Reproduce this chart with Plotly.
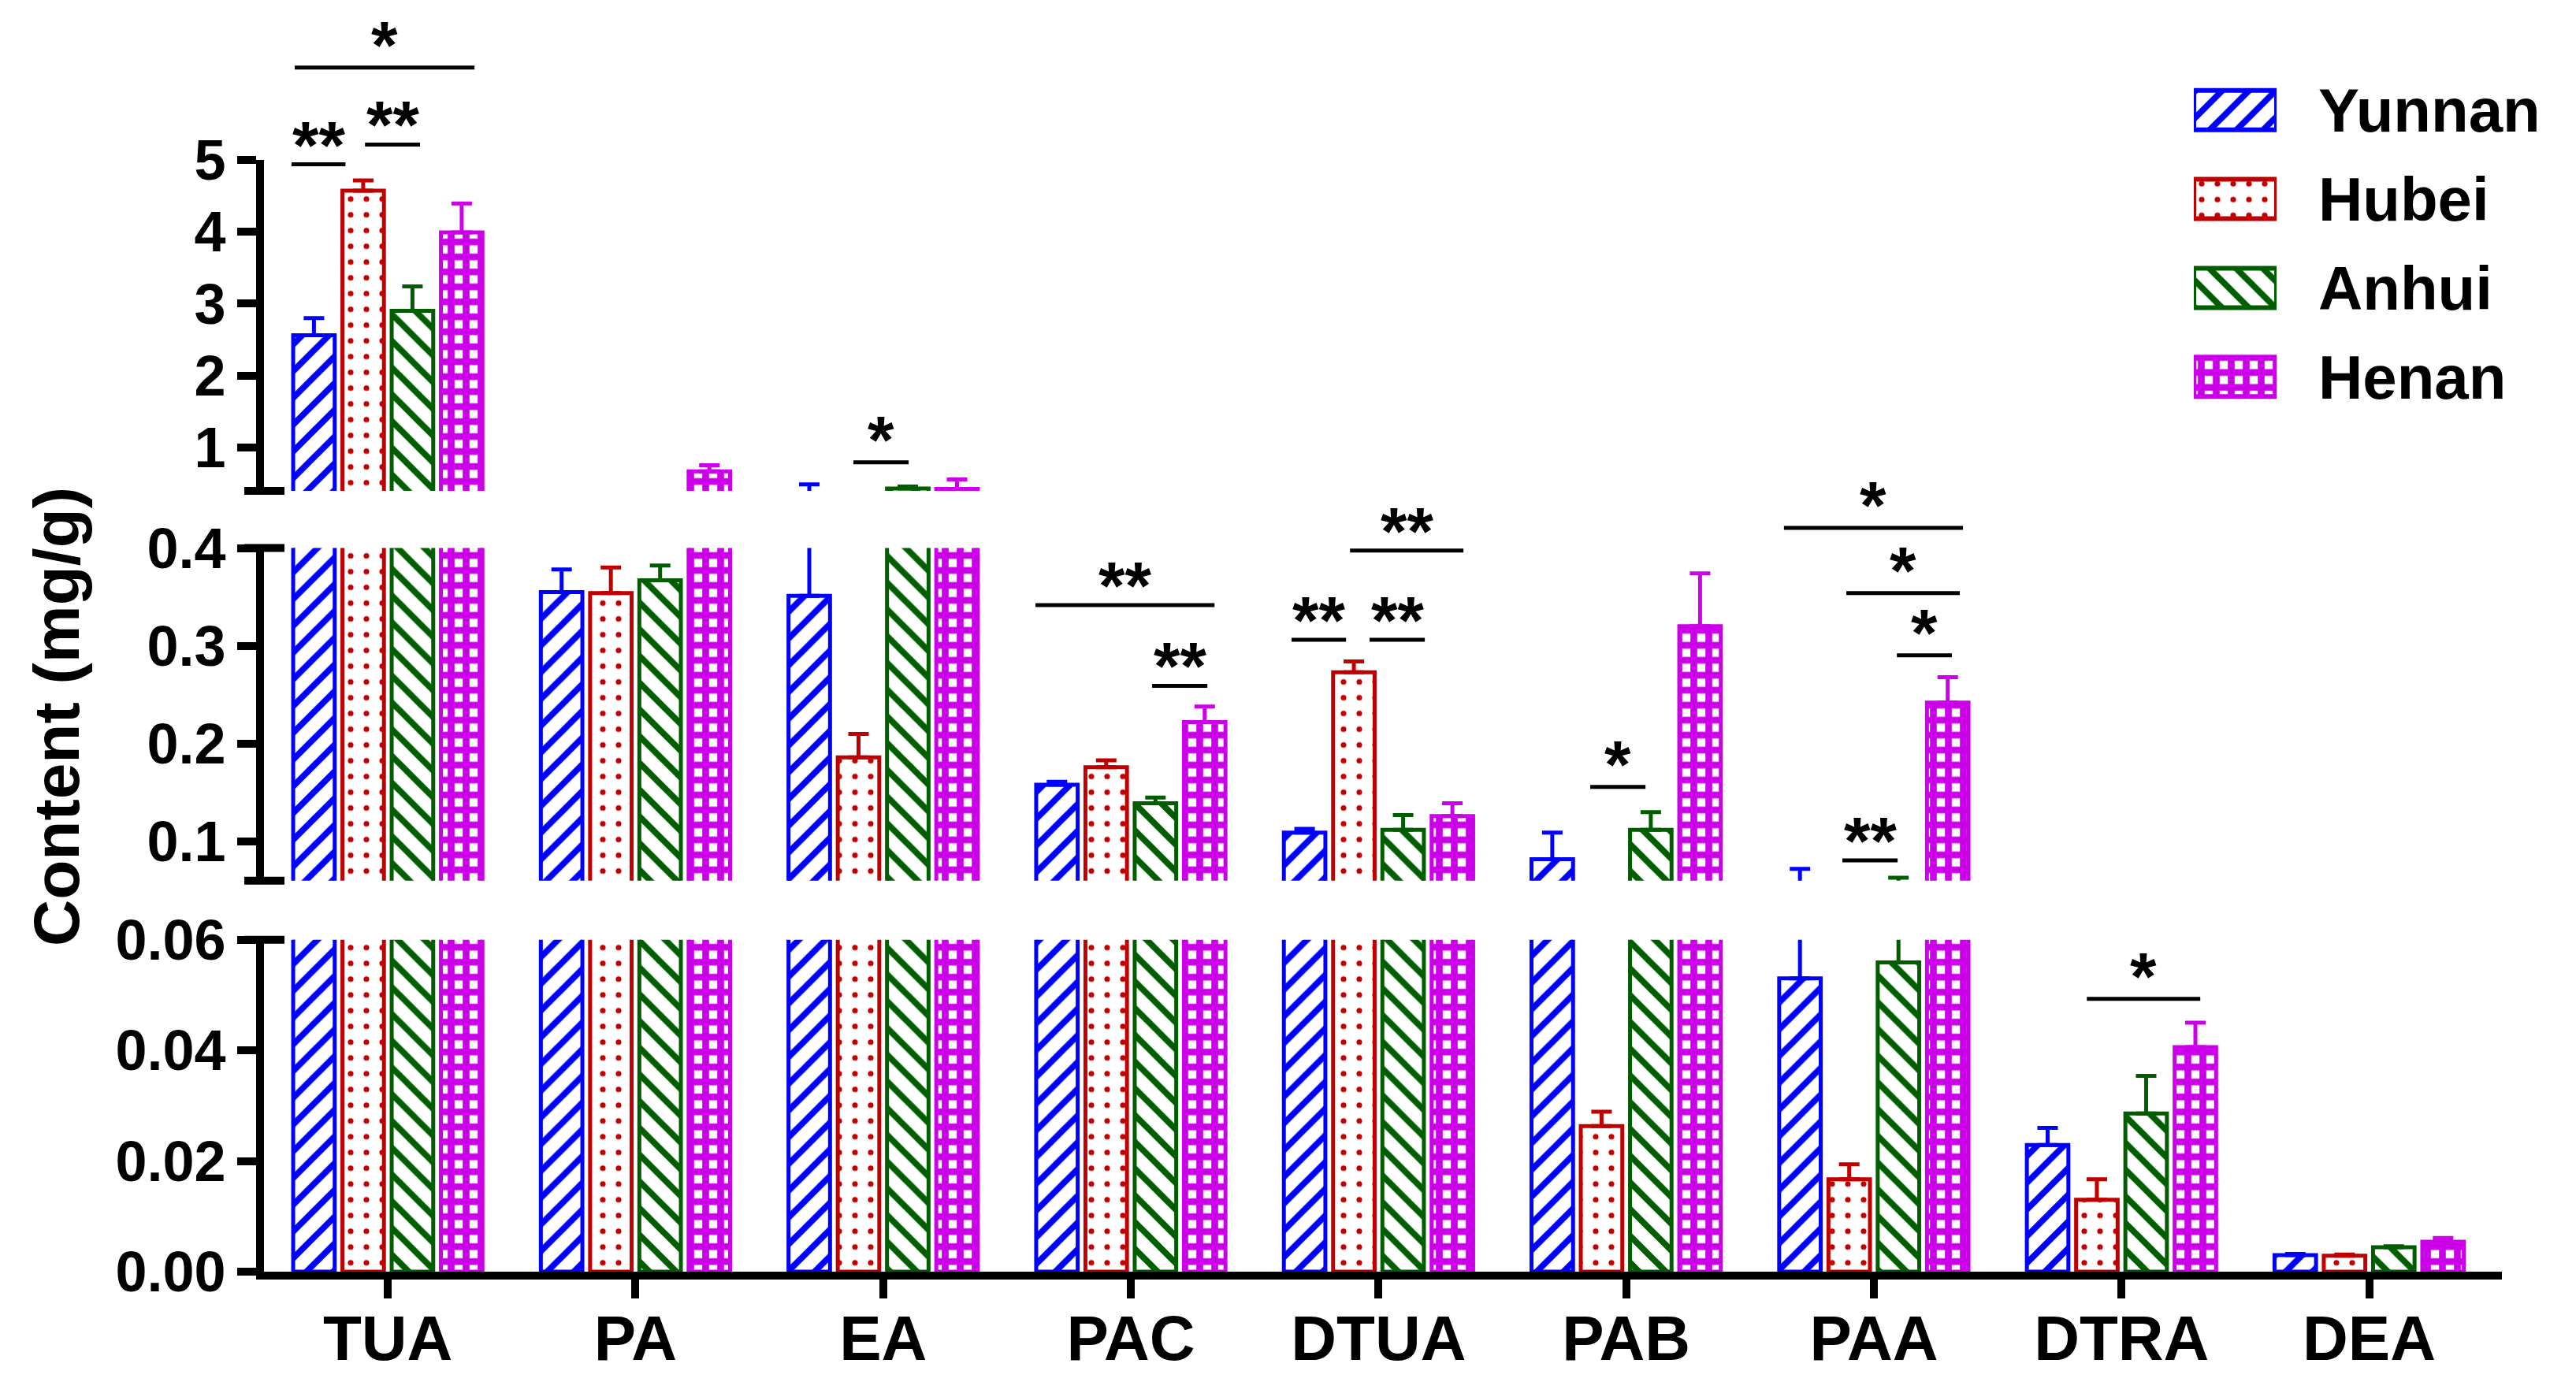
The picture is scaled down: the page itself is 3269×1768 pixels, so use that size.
import plotly.graph_objects as go

# ---------------- data ----------------
categories = ["TUA", "PA", "EA", "PAC", "DTUA", "PAB", "PAA", "DTRA", "DEA"]
series = ["Yunnan", "Hubei", "Anhui", "Henan"]

yunnan = [2.56, 0.355, 0.351, 0.158, 0.109, 0.082, 0.053, 0.0229, 0.0030]
yunnan_err = [0.24, 0.023, 0.140, 0.003, 0.004, 0.027, 0.019, 0.0031, 0.0002]
hubei = [4.57, 0.354, 0.186, 0.176, 0.273, 0.0263, 0.0167, 0.0130, 0.0029]
hubei_err = [0.14, 0.026, 0.024, 0.007, 0.011, 0.0026, 0.0027, 0.0037, 0.0002]
anhui = [2.90, 0.367, 0.432, 0.139, 0.112, 0.112, 0.0559, 0.0286, 0.0044]
anhui_err = [0.34, 0.015, 0.028, 0.006, 0.015, 0.018, 0.0071, 0.0068, 0.0002]
henan = [3.99, 0.67, 0.428, 0.222, 0.126, 0.320, 0.242, 0.0406, 0.0054]
henan_err = [0.40, 0.085, 0.13, 0.016, 0.013, 0.054, 0.026, 0.0044, 0.0007]

values = [yunnan, hubei, anhui, henan]
errors = [yunnan_err, hubei_err, anhui_err, henan_err]

# broken y axis: bottom, middle, top segments
seg_ranges = [[0, 0.06], [0.06, 0.4], [0.4, 5]]
seg_tickvals = [[0, 0.02, 0.04, 0.06], [0.1, 0.2, 0.3, 0.4], [1, 2, 3, 4, 5]]
seg_ticktext = [["0.00", "0.02", "0.04", "0.06"], ["0.1", "0.2", "0.3", "0.4"],
                ["1", "2", "3", "4", "5"]]

# significance marks: category, line start / end (offset from category centre),
# segment, level, label
significance = [
    ("TUA", -0.376, 0.350, 2, 6.279, "*"),
    ("TUA", -0.389, -0.171, 2, 4.935, "**"),
    ("TUA", -0.092, 0.130, 2, 5.209, "**"),
    ("EA", -0.120, 0.103, 2, 0.798, "*"),
    ("PAC", -0.385, 0.338, 1, 0.3416, "**"),
    ("PAC", 0.086, 0.309, 1, 0.2591, "**"),
    ("DTUA", -0.351, -0.131, 1, 0.3062, "**"),
    ("DTUA", -0.036, 0.187, 1, 0.3062, "**"),
    ("DTUA", -0.115, 0.343, 1, 0.3974, "**"),
    ("PAB", -0.145, 0.078, 1, 0.1558, "*"),
    ("PAA", -0.363, 0.360, 1, 0.4205, "*"),
    ("PAA", -0.111, 0.347, 1, 0.3539, "*"),
    ("PAA", 0.093, 0.315, 1, 0.2903, "*"),
    ("PAA", -0.127, 0.096, 1, 0.0807, "**"),
    ("DTRA", -0.140, 0.318, 0, 0.0493, "*"),
]

# ---------------- style ----------------
FONT = "Liberation Sans, Arial, sans-serif"
colors = ["#0000FF", "#C00000", "#005E00", "#CC00E8"]
pat_shapes = ["/", ".", "\\", "+"]
pat_sizes = [24, 20, 24, 19]
pat_solid = [0.33, 0.1, 0.33, 0.7]

seg_axes = ["y", "y2", "y3"]
seg_domains = [[0.0, 0.2643], [0.31136, 0.57622], [0.6217, 0.88545]]
XR = [-0.5, 8.536]


def xp(v):
    return (v - XR[0]) / (XR[1] - XR[0])


def yp(seg, v):
    r, d = seg_ranges[seg], seg_domains[seg]
    return d[0] + (v - r[0]) / (r[1] - r[0]) * (d[1] - d[0])


fig = go.Figure()

for si, ax in enumerate(seg_axes):
    lo = seg_ranges[si][0]
    for k, name in enumerate(series):
        # a bar (with its error bar) that never reaches this segment is left out of it
        yv = [v if v + e >= lo else None for v, e in zip(values[k], errors[k])]
        fig.add_trace(go.Bar(
            x=categories, y=yv, name=name, xaxis="x", yaxis=ax,
            showlegend=False,
            marker=dict(color="white",
                        line=dict(color=colors[k], width=5),
                        pattern=dict(shape=pat_shapes[k], fgcolor=colors[k],
                                     bgcolor="white", size=pat_sizes[k],
                                     solidity=pat_solid[k], fillmode="replace")),
            error_y=dict(type="data", symmetric=False, array=errors[k],
                         arrayminus=[0] * len(categories), color=colors[k],
                         thickness=5, width=13),
        ))

# legend drawn as a small bar panel
fig.add_trace(go.Bar(
    x=[1] * len(series), y=series, orientation="h", base=0, width=0.443,
    xaxis="x4", yaxis="y4", showlegend=False, cliponaxis=False,
    marker=dict(color="white", line=dict(color=colors, width=6),
                pattern=dict(shape=pat_shapes, fgcolor=colors, bgcolor="white",
                             size=pat_sizes, solidity=pat_solid, fillmode="replace")),
))

axis_common = dict(showline=True, linewidth=10, linecolor="black", ticks="outside",
                   ticklen=24, tickwidth=10, tickcolor="black", showgrid=False,
                   zeroline=False, fixedrange=True, automargin=False)

layout = dict(
    width=3269, height=1768,
    margin=dict(l=327, r=102, t=12, b=162, pad=0, autoexpand=False),
    paper_bgcolor="white", plot_bgcolor="white",
    barmode="group", bargap=0.2045, bargroupgap=0.157,
    showlegend=False,
    font=dict(family=FONT, color="black", weight="bold"),
    xaxis=dict(domain=[0, 1], anchor="y", type="category", range=XR,
               ticklabelstandoff=-18,
               tickfont=dict(family=FONT, size=80, color="black", weight="bold"),
               **axis_common),
    xaxis4=dict(domain=[0.86232, 0.8993], anchor="y4", range=[0, 1], visible=False,
                automargin=False),
    yaxis4=dict(domain=[0.67707, 0.96032], anchor="x4", type="category",
                range=[3.5, -0.5], side="right", showline=False, ticks="",
                showgrid=False, zeroline=False, ticklabelstandoff=52, automargin=False,
                tickfont=dict(family=FONT, size=78, color="black", weight="bold")),
)
for si, ax in enumerate(seg_axes):
    key = "yaxis" if ax == "y" else "yaxis" + ax[1:]
    layout[key] = dict(domain=seg_domains[si], anchor="x", range=seg_ranges[si],
                       tickmode="array", tickvals=seg_tickvals[si],
                       ticktext=seg_ticktext[si],
                       tickfont=dict(family=FONT, size=72, color="black", weight="bold"),
                       **axis_common)
fig.update_layout(**layout)

shapes = []
annotations = []

# axis-break caps (cross the axis line at segment ends)
cap_x0, cap_x1 = -25 / 2840, 26 / 2840
for ref, yv in [("y domain", 1), ("y2 domain", 0), ("y2 domain", 1), ("y3 domain", 0)]:
    shapes.append(dict(type="line", xref="paper", yref=ref, x0=cap_x0, x1=cap_x1,
                       y0=yv, y1=yv, line=dict(color="black", width=10)))

# significance lines and stars
for cat, o0, o1, seg, lev, lab in significance:
    c = categories.index(cat)
    y = yp(seg, lev)
    shapes.append(dict(type="line", xref="paper", yref="paper",
                       x0=xp(c + o0), x1=xp(c + o1), y0=y, y1=y,
                       line=dict(color="black", width=5)))
    annotations.append(dict(xref="paper", yref="paper", x=xp(c + (o0 + o1) / 2), y=y,
                            text=lab, showarrow=False, xanchor="center",
                            yanchor="bottom", yshift=(-21 if lab == "*" else -25),
                            font=dict(family=FONT, size=86, color="black", weight="bold")))

# y axis title
annotations.append(dict(xref="paper", yref="paper", x=-0.0926, y=0.4417,
                        text="Content (mg/g)", textangle=-90, showarrow=False,
                        xanchor="center", yanchor="middle",
                        font=dict(family=FONT, size=82, color="black", weight="bold")))

fig.update_layout(shapes=shapes, annotations=annotations)

fig.write_html("out.html", config={"displayModeBar": False})
